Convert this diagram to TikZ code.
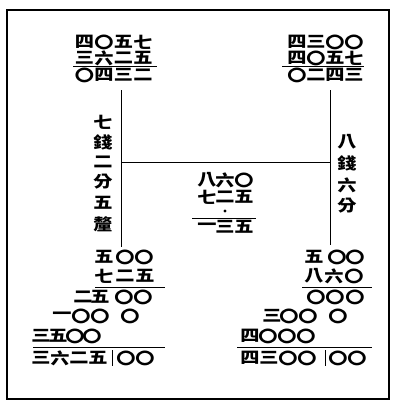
\documentclass[tikz,border=0pt]{standalone}
\usepackage{fontspec}
\newfontfamily\cjk{Noto Sans CJK TC}[FakeStretch=1.2]
\begin{document}
\begin{tikzpicture}[x=1pt,y=-1pt,
  ch/.style={font=\cjk\bfseries\fontsize{16}{16}\selectfont, inner sep=0pt, anchor=center},
  rule/.style={line width=0.9pt},
  frame/.style={line width=2.2pt}]
\useasboundingbox (0,0) rectangle (394,405);
\fill[white] (0,0) rectangle (394,405);
\draw[frame] (7,10) rectangle (389,399);
% top-left block
\foreach \x/\c in {84.5/四,104/〇,123.5/五,143/七} \node[ch] at (\x,42) {\c};
\foreach \x/\c in {84.5/三,104/六,123.5/二,143/五} \node[ch] at (\x,58) {\c};
\draw[rule] (73,66.5) -- (157,66.5);
\foreach \x/\c in {84.5/〇,104/四,123.5/三,143/二} \node[ch] at (\x,75) {\c};
% top-right block
\foreach \x/\c in {297/四,316/三,335/〇,354/〇} \node[ch] at (\x,42) {\c};
\foreach \x/\c in {297/四,316/〇,335/五,354/七} \node[ch] at (\x,58) {\c};
\draw[rule] (282,66.5) -- (364,66.5);
\foreach \x/\c in {297/〇,316/二,335/四,354/三} \node[ch] at (\x,75) {\c};
% vertical lines and connector
\coordinate (la) at (121,90); \coordinate (lb) at (121,247);
\coordinate (ra) at (330,90); \coordinate (rb) at (330,245);
\coordinate (lm) at (121,162); \coordinate (rm) at (330,162);
\draw[line width=0.7pt] (la) -- (lb);
\draw[line width=0.7pt] (ra) -- (rb);
\draw[line width=0.7pt] (lm) -- (rm);
% vertical texts
\foreach \y/\c in {122/七,142/錢,162/二,182/分,203/五,224/釐} \node[ch] at (103,\y) {\c};
\foreach \y/\c in {142/八,163/錢,185/六,206/分} \node[ch] at (347,\y) {\c};
% centre block
\foreach \x/\c in {207/八,225/六,244/〇} \node[ch] at (\x,180) {\c};
\foreach \x/\c in {207/七,225/二,244/五} \node[ch] at (\x,197) {\c};
\fill (225,211) circle (1.6);
\draw[rule] (192,218) -- (256,218);
\foreach \x/\c in {207/一,225/三,244/五} \node[ch] at (\x,227) {\c};
% bottom-left block
\foreach \x/\c in {104/五,125/〇,144/〇} \node[ch] at (\x,257) {\c};
\foreach \x/\c in {104/七,125/二,145/五} \node[ch] at (\x,276) {\c};
\draw[rule] (95,287) -- (165,287);
\foreach \x/\c in {83/二,100/五,124/〇,143/〇} \node[ch] at (\x,297) {\c};
\foreach \x/\c in {62/一,81/〇,100/〇,130/〇} \node[ch] at (\x,316) {\c};
\foreach \x/\c in {41/三,58/五,75/〇,92/〇} \node[ch] at (\x,336) {\c};
\draw[rule] (33,347) -- (165,347);
\foreach \x/\c in {41/三,60/六,79/二,98/五,126/〇,145/〇} \node[ch] at (\x,358) {\c};
\draw[line width=0.7pt] (112,350) -- (112,366);
% bottom-right block
\foreach \x/\c in {314/五,337/〇,355/〇} \node[ch] at (\x,257) {\c};
\foreach \x/\c in {314/八,334/六,354/〇} \node[ch] at (\x,276) {\c};
\draw[rule] (302,287) -- (372,287);
\foreach \x/\c in {316/〇,335/〇,355/〇} \node[ch] at (\x,297) {\c};
\foreach \x/\c in {272/三,289/〇,308/〇,338/〇} \node[ch] at (\x,316) {\c};
\foreach \x/\c in {250/四,268/〇,287/〇,306/〇} \node[ch] at (\x,336) {\c};
\draw[rule] (237,347) -- (372,347);
\foreach \x/\c in {250/四,269/三,288/〇,307/〇,338/〇,357/〇} \node[ch] at (\x,358) {\c};
\draw[line width=0.7pt] (325,350) -- (325,366);
\end{tikzpicture}
\end{document}
